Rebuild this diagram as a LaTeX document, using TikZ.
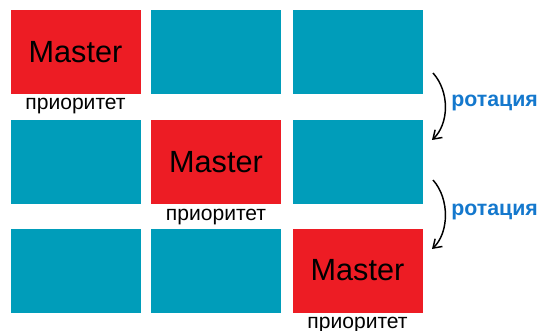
\documentclass[tikz,border=0pt]{standalone}
\usepackage{fontspec}
\setmainfont{Liberation Sans}
\usetikzlibrary{arrows.meta, positioning}
\definecolor{masterred}{RGB}{237,28,36}
\definecolor{gridteal}{RGB}{0,157,186}
\definecolor{rotblue}{RGB}{20,120,205}

\begin{document}
\begin{tikzpicture}[
  x=0.75pt, y=-0.75pt,
  every node/.style={font=\fontsize{15.8}{18}\selectfont},
  cell/.style={fill=gridteal, minimum width=97.5pt, minimum height=63pt,
               inner sep=0pt},
  master/.style={cell, fill=masterred, font=\fontsize{23}{27}\selectfont},
  prio/.style={inner sep=0pt},
  rot/.style={text=rotblue, anchor=west, inner sep=0pt,
              font=\fontsize{16}{18}\selectfont\bfseries},
  turn/.style={-{Straight Barb[length=6pt, width=8pt]}, line width=1.1pt},
  >=Stealth
]
\useasboundingbox (0,0) rectangle (538,331);

% 3x3 grid of cells
\foreach \r/\y in {1/52, 2/162.5, 3/270.5} {
  \foreach \c/\x in {1/75.5, 2/216, 3/357.5} {
    \node[cell] (c\r\c) at (\x,\y) {};
  }
}

% Master moves along the diagonal
\foreach \i in {1,2,3} {
  \node[master] (m\i) at (c\i\i) {Master};
  \node[prio, below=3pt of m\i] (p\i) {приоритет};
}

% Rotation arrows
\coordinate (t1a) at (433,73);
\coordinate (t1b) at (432,140);
\coordinate (t2a) at (433,180);
\coordinate (t2b) at (432,249);
\draw[turn] (t1a) .. controls (450,92) and (449,124) .. (t1b);
\draw[turn] (t2a) .. controls (450,199) and (449,233) .. (t2b);

\node[rot] (rot1) at (451,103) {ротация};
\node[rot] (rot2) at (451,212) {ротация};

\end{tikzpicture}
\end{document}
